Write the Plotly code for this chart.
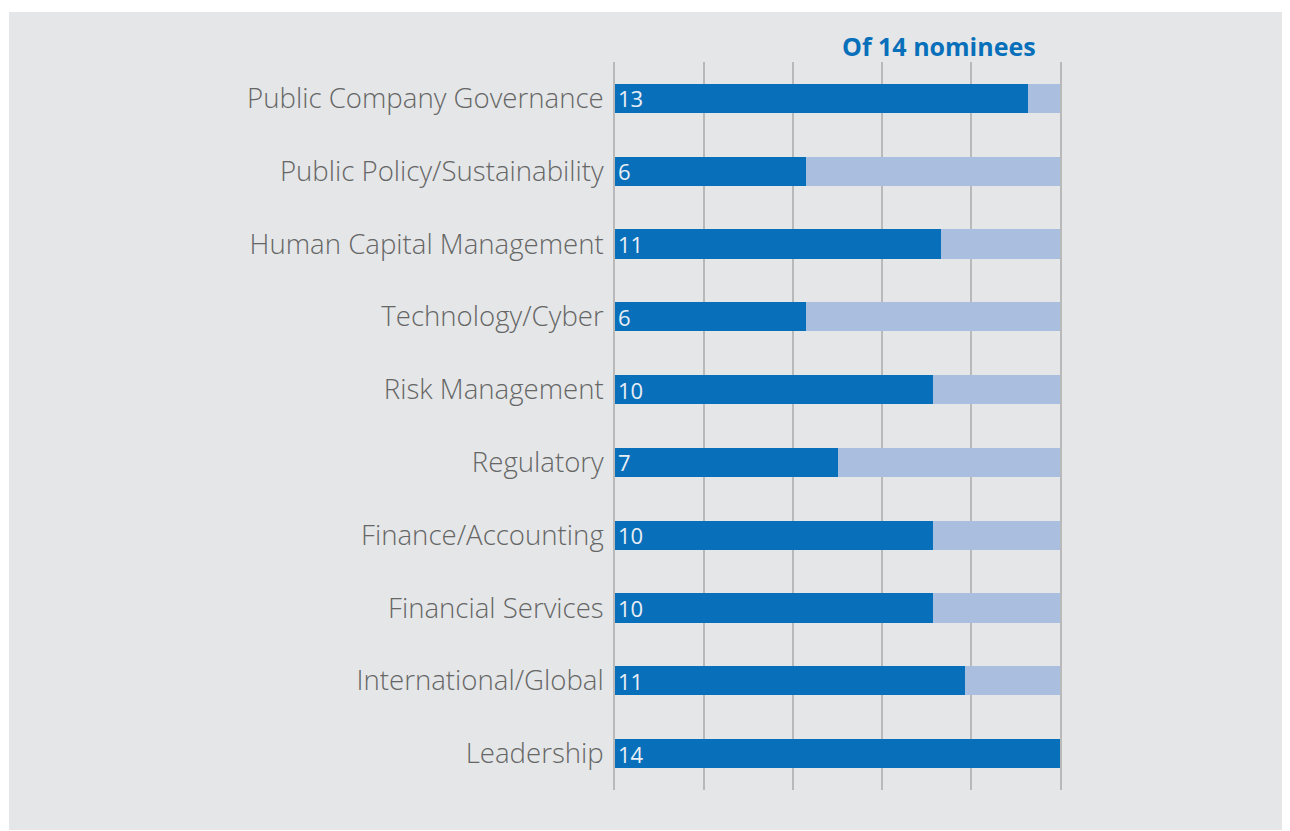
import plotly.graph_objects as go

categories = [
    "Public Company Governance", "Public Policy/Sustainability", "Human Capital Management",
    "Technology/Cyber", "Risk Management", "Regulatory", "Finance/Accounting",
    "Financial Services", "International/Global", "Leadership",
]
# bar lengths as drawn, and the printed counts
bar_values = [13, 6, 10.25, 6, 10, 7, 10, 10, 11, 14]
count_labels = ["13", "6", "11", "6", "10", "7", "10", "10", "11", "14"]
total = 14
remainder = [total - v for v in bar_values]

DARK = "#0870ba"
LIGHT = "#aabfe0"
BG = "#e5e6e8"
GRID = "#b9b9b9"

fig = go.Figure()
fig.add_trace(go.Bar(
    y=categories, x=bar_values, orientation="h", marker=dict(color=DARK, line_width=0),
    text=count_labels, textposition="inside", insidetextanchor="start", textangle=0,
    constraintext="none",
    textfont=dict(color="#e8eef6", size=22, family="Open Sans"), width=0.4,
    hoverinfo="skip",
))
fig.add_trace(go.Bar(
    y=categories, x=remainder, orientation="h", marker=dict(color=LIGHT, line_width=0),
    width=0.4, hoverinfo="skip",
))

# page has an 8px body margin, so the figure sits 8px in from the corner
fig.update_layout(
    barmode="stack", showlegend=False, width=1282, height=822,
    margin=dict(l=607, r=230, t=54, b=40),
    paper_bgcolor=BG, plot_bgcolor=BG,
    font=dict(family="Open Sans", color="#666666", size=28),
    uniformtext=dict(minsize=8, mode=False),
)
fig.update_xaxes(range=[0, 14], tickvals=[0, 2.8, 5.6, 8.4, 11.2, 14], showticklabels=False,
                 showgrid=True, gridcolor=GRID, gridwidth=1.5, zeroline=False, fixedrange=True)
fig.update_yaxes(autorange="reversed", showgrid=False, ticks="", ticklabelstandoff=4,
                 showline=True, mirror=True, linecolor=GRID, linewidth=1.5,
                 tickfont=dict(size=27.6, color="#666666", weight=300))
# thin white strips along the top and left of the panel
fig.add_shape(type="rect", xref="paper", yref="paper",
              x0=-607 / 445, x1=(1282 - 607) / 445, y0=1 + 50 / 728, y1=1 + 54 / 728,
              fillcolor="white", line_width=0, layer="below")
fig.add_shape(type="rect", xref="paper", yref="paper",
              x0=-607 / 445, x1=-606 / 445, y0=-40 / 728, y1=1 + 54 / 728,
              fillcolor="white", line_width=0, layer="below")
fig.add_annotation(text="<b>Of 14 nominees</b>", xref="paper", yref="paper",
                   x=(1030 - 607) / 445, y=1 + (54 - 38) / 728, xanchor="right", yanchor="middle",
                   showarrow=False, font=dict(color=DARK, size=25, family="Open Sans"))

fig.write_html("out.html")
